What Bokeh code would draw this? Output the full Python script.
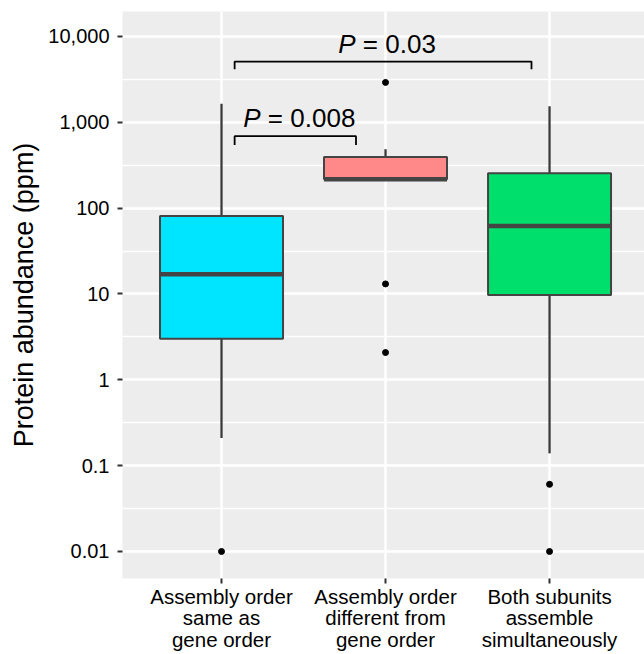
from bokeh.plotting import figure
from bokeh.models import Range1d, FixedTicker, ColumnDataSource
from bokeh.embed import file_html
from bokeh.resources import INLINE
from bokeh.core.properties import value

# ---- data ----
categories = ["Assembly order\nsame as\ngene order",
              "Assembly order\ndifferent from\ngene order",
              "Both subunits\nassemble\nsimultaneously"]
positions = [1, 2, 3]
lower_whisker = [0.21, 217, 0.139]
q1 = [3.0, 217, 9.7]
median = [17.0, 217, 62.0]
q3 = [81.0, 395, 255.0]
upper_whisker = [1650, 486, 1535]
box_colors = ["#00E5FF", "#FF8888", "#00DE6B"]
outlier_x = [1, 2, 2, 2, 3, 3]
outlier_y = [0.01, 2918, 13.1, 2.08, 0.0606, 0.01]

y_ticks = [0.01, 0.1, 1, 10, 100, 1000, 10000]
y_tick_labels = ["0.01", "0.1", "1", "10", "100", "1,000", "10,000"]
y_minor = [10 ** (k + 0.5) for k in range(-3, 5)]

brackets_xl = [1.08, 1.08]
brackets_xr = [1.82, 2.89]
brackets_y = [690, 5100]
brackets_tick_end = [545, 4150]
p_values = ["0.008", "0.03"]

FONT = "Liberation Sans"
LOG_BOTTOM, LOG_TOP = -2.3146, 4.291

p = figure(width=644, height=654, output_backend="svg", toolbar_location=None,
           y_axis_type="log",
           x_range=Range1d(0.3963, 3.579), y_range=Range1d(10 ** LOG_BOTTOM, 10 ** LOG_TOP),
           min_border_left=122, min_border_right=0, min_border_top=11, min_border_bottom=76)
p.outline_line_color = None
p.background_fill_color = "#EDEDED"
p.border_fill_color = "white"

# grids
p.xgrid.ticker = FixedTicker(ticks=positions)
p.xgrid.grid_line_color = "white"
p.xgrid.grid_line_width = 2.5
p.ygrid.ticker = FixedTicker(ticks=y_ticks, minor_ticks=y_minor)
p.ygrid.grid_line_color = "white"
p.ygrid.grid_line_width = 2.5
p.ygrid.minor_grid_line_color = "white"
p.ygrid.minor_grid_line_width = 1.4

# axes
p.xaxis.ticker = FixedTicker(ticks=positions)
p.xaxis.major_label_overrides = {pos: lab for pos, lab in zip(positions, categories)}
p.yaxis.ticker = FixedTicker(ticks=y_ticks)
p.yaxis.major_label_overrides = {t: l for t, l in zip(y_ticks, y_tick_labels)}
for ax in (p.xaxis[0], p.yaxis[0]):
    ax.axis_line_color = None
    ax.major_tick_line_color = "#333333"
    ax.major_tick_line_width = 2
    ax.major_tick_out = 5
    ax.major_tick_in = 0
    ax.minor_tick_line_color = None
    ax.major_label_text_font = FONT
    ax.major_label_text_font_size = "20px"
    ax.major_label_text_color = "black"
p.xaxis.major_label_text_font_size = "20.5px"
p.xaxis.major_label_standoff = 1
p.xaxis.major_label_text_line_height = 0.95
p.yaxis.major_label_standoff = 8
p.yaxis.axis_label = "Protein abundance (ppm)"
p.yaxis.axis_label_text_font = FONT
p.yaxis.axis_label_text_font_size = "27px"
p.yaxis.axis_label_text_font_style = "normal"
p.yaxis.axis_label_text_color = "black"
p.yaxis.axis_label_standoff = 6

src = ColumnDataSource(dict(x=positions, lw=lower_whisker, q1=q1, med=median, q3=q3,
                            uw=upper_whisker, color=box_colors,
                            xl=[v - 0.375 for v in positions], xr=[v + 0.375 for v in positions]))

# whiskers
p.segment(x0="x", y0="q3", x1="x", y1="uw", source=src, line_color="#3a3a3a", line_width=2.3)
p.segment(x0="x", y0="q1", x1="x", y1="lw", source=src, line_color="#3a3a3a", line_width=2.3)
# boxes
p.vbar(x="x", width=0.75, bottom="q1", top="q3", source=src, fill_color="color",
       line_color="#444444", line_width=2)
# medians
p.segment(x0="xl", y0="med", x1="xr", y1="med", source=src, line_color="#444444", line_width=4.5)
# outliers
p.scatter(x=outlier_x, y=outlier_y, size=6, color="black")

# significance brackets
for xl, xr, yb, yt, pv in zip(brackets_xl, brackets_xr, brackets_y, brackets_tick_end, p_values):
    p.line(x=[xl, xl, xr, xr], y=[yt, yb, yb, yt], line_color="black", line_width=1.8)
    xc = (xl + xr) / 2
    rest = "= " + pv
    total_w = 26 * (0.667 + 0.278) + 26 * (0.584 + 0.278 + 0.278 + 0.556 * (len(pv) - 1))
    x0 = -total_w / 2 + 4
    p.text(x=[xc], y=[yb], text=["P"], text_font=value(FONT), text_font_size="26px",
           text_font_style="italic", text_align="left", text_baseline="bottom",
           x_offset=x0, y_offset=-3, text_color="black")
    p.text(x=[xc], y=[yb], text=[rest], text_font=value(FONT),
           text_font_size="26px", text_align="left", text_baseline="bottom",
           x_offset=x0 + 26 * (0.667 + 0.278), y_offset=-3, text_color="black")

open("out.html", "w").write(file_html(p, INLINE))
